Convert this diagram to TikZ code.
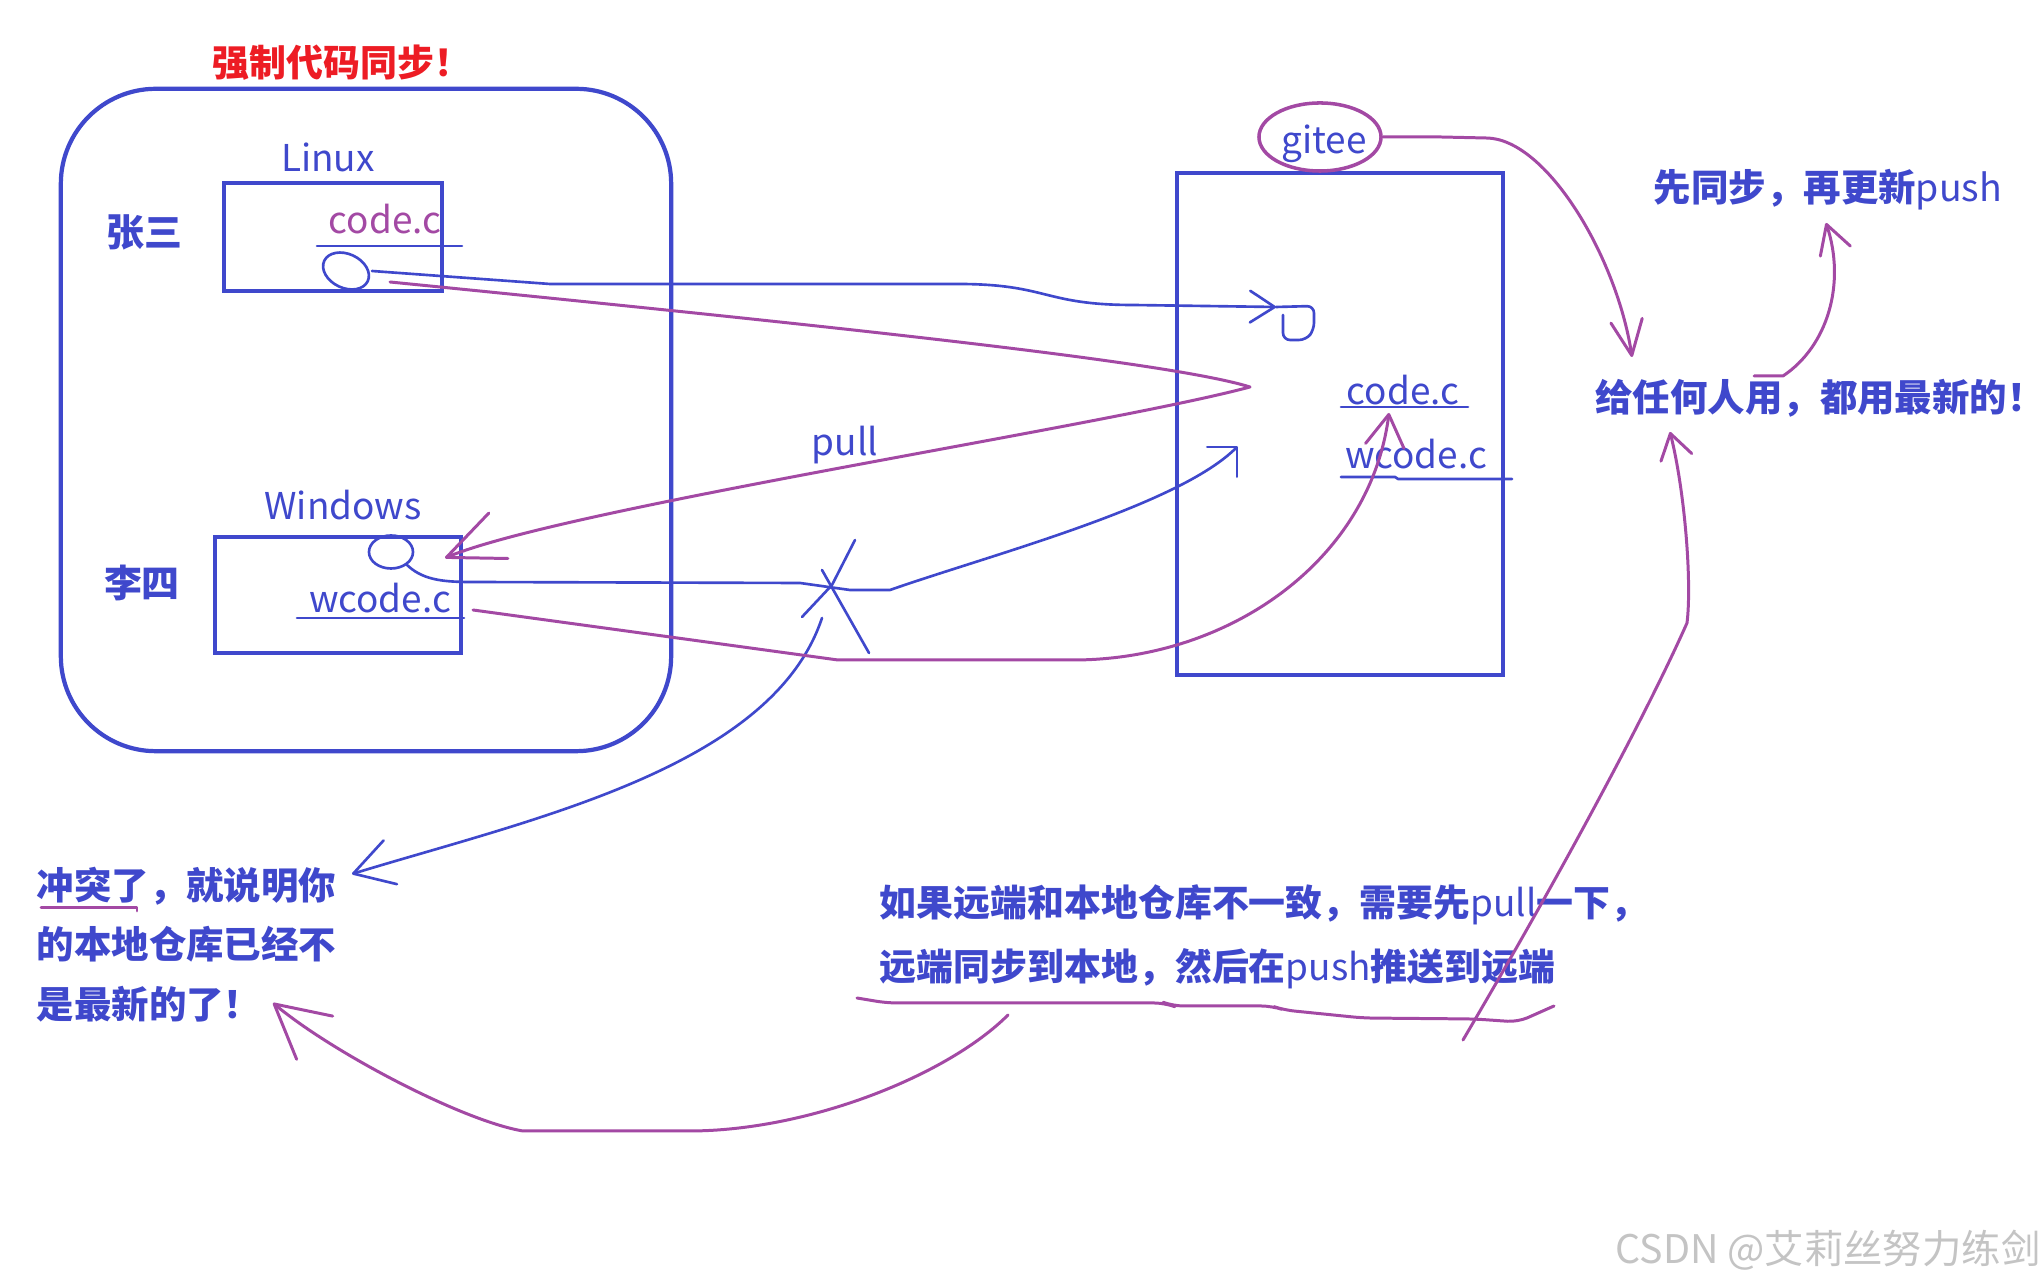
\documentclass[tikz,border=0pt]{standalone}
\usepackage{fontspec}
\setmainfont{Noto Sans CJK SC}
\usepackage{xcolor}
\usetikzlibrary{positioning, arrows.meta, shapes.geometric}
\definecolor{inkblue}{RGB}{63,72,204}
\definecolor{inkpurple}{RGB}{163,73,164}
\definecolor{inkred}{RGB}{237,28,36}
\definecolor{markgray}{RGB}{196,196,196}

\begin{document}
\begin{tikzpicture}[
      x=0.01cm, y=-0.01cm,
      font=\fontsize{10.5}{12}\selectfont,
      box/.style={
        draw=inkblue,
        line width=1.2pt,
        inner sep=0pt
      },
      word/.style={text=inkblue, inner sep=0pt},
      notetext/.style={
        text=inkblue,
        inner sep=0pt,
        align=left,
        font=\fontsize{10.65}{17}\selectfont\bfseries
      },
      loop/.style={ellipse, draw=inkblue, line width=0.75pt, inner sep=0pt},
      bluepen/.style={draw=inkblue, line width=0.75pt, line cap=round, line join=round},
      purplepen/.style={draw=inkpurple, line width=0.85pt, line cap=round, line join=round},
      barb/.style 2 args={-{Straight Barb[length=#1, width=#2, round]}}
    ]
    \useasboundingbox (0,0) rectangle (2044,1286);
    \fill[white] (0,0) rectangle (2044,1286);

    % Place nodes
    \node [box, rounded corners=0.95cm, minimum width=6.1cm, minimum height=6.62cm] (team) at (366,420) {};
    \node [text=inkred, inner sep=0pt, font=\fontsize{10.5}{12}\selectfont\bfseries] (title) at (342,63) {强制代码同步！};
    \node [box, minimum width=2.18cm, minimum height=1.08cm] (linuxbox) at (333,237) {};
    \node [word] (linux) at (328,157) {Linux};
    \node [word, font=\fontsize{10.8}{12}\selectfont\bfseries] (zhangsan) at (144,232) {张三};
    \node [word, text=inkpurple] (codeA) at (385,219) {code.c};
    \node [loop, minimum width=0.48cm, minimum height=0.34cm, rotate=-25] (loopA) at (346,271) {};
    \node [box, minimum width=2.46cm, minimum height=1.16cm] (winbox) at (338,595) {};
    \node [word] (windows) at (343,505) {Windows};
    \node [word, font=\fontsize{10.8}{12}\selectfont\bfseries] (lisi) at (142,583) {李四};
    \node [word] (wcodeA) at (380,598) {wcode.c};
    \node [loop, minimum width=0.44cm, minimum height=0.33cm] (loopB) at (391,552) {};

    \node [box, minimum width=3.26cm, minimum height=5.02cm] (gitbox) at (1340,424) {};
    \node [ellipse, draw=inkpurple, line width=1pt, minimum width=1.22cm, minimum height=0.68cm, inner sep=0pt] (gitee) at (1320,137) {};
    \node [word] (giteename) at (1324,144) {gitee};
    \node [word] (codeB) at (1403,390) {code.c};
    \node [word] (wcodeB) at (1416,454) {wcode.c};
    \node [word] (pull) at (845,445) {pull};

    \node [notetext] (sync) at (1828,190) {先同步，再更新{\mdseries push}};
    \node [notetext] (everyone) at (1820,398) {给任何人用，都用最新的！};
    \node [notetext, anchor=north west] (conflict) at (36,866) {冲突了，就说明你\\的本地仓库已经不\\是最新的了！};
    \node [notetext, anchor=north west, font=\fontsize{10.5}{18.2}\selectfont\bfseries] (remote) at (879,884)
      {如果远端和本地仓库不一致，需要先{\mdseries pull}一下，\\远端同步到本地，然后在{\mdseries push}推送到远端};
    \node [text=markgray, inner sep=0pt, font=\fontsize{11.2}{14}\selectfont] (mark) at (1828,1250) {CSDN @艾莉丝努力练剑};

    % Free ends of the hand drawn strokes
    \coordinate (pushOut) at (372,271);
    \coordinate (fileA) at (1276,307);
    \coordinate (linuxOut) at (390,282);
    \coordinate (turn) at (1250,387);
    \coordinate (pullTip) at (445,558);
    \coordinate (winOut) at (406,564);
    \coordinate (cross) at (832,585);
    \coordinate (pushTip) at (1238,446);
    \coordinate (conflictOut) at (822,618);
    \coordinate (conflictIn) at (352,874);
    \coordinate (wOut) at (473,610);
    \coordinate (mergeTip) at (1389,413);
    \coordinate (giteeTip) at (1632,357);
    \coordinate (syncOut) at (1754,376);
    \coordinate (syncTip) at (1826,223);
    \coordinate (remoteOut) at (1008,1015);
    \coordinate (remoteTip) at (273,1003);
    \coordinate (remoteUp) at (1463,1040);
    \coordinate (everyoneTip) at (1670,432);

    % Underlines
    \draw [bluepen] (317,246) -- (462,246);
    \draw [bluepen] (297,618) -- (464,618);
    \draw [bluepen] (1341,407) -- (1468,407);
    \draw [bluepen] (1341,477) -- (1395,477) -- (1398,479) -- (1512,479);
    \draw [purplepen] (41,908) -- (137,908) -- (137,911);
    \draw [purplepen, rounded corners=3pt] (857,998) -- (887,1003) -- (1165,1003) -- (1173,1006) -- (1272,1006)
      -- (1284,1010) -- (1363,1018) -- (1475,1019) -- (1518,1022) -- (1554,1006);

    % File in the remote repository
    \draw [bluepen, rounded corners=2pt] (fileA) -- (1314,306) -- (1314,330) -- (1306,340) -- (1283,340) -- (1283,315);

    % Push from Linux, pull back to Windows
    \draw [bluepen, barb={7pt}{9pt}] (pushOut) -- (550,284) -- (958,284)
      .. controls +(90,0) and +(-90,0) .. (1133,305) -- (fileA);
    \draw [purplepen, barb={16pt}{14pt}] (linuxOut) .. controls +(450,45) and +(-80,-25) .. (turn)
      .. controls +(-150,40) and +(120,-50) .. (pullTip);

    % Push from Windows is refused
    \draw [bluepen, barb={6pt}{12pt}] (winOut) .. controls +(15,15) and +(-30,0) .. (470,582) -- (800,583)
      -- (850,590) -- (890,590) .. controls +(100,-35) and +(-60,60) .. (pushTip);
    \draw [bluepen] ([shift={(23,-45)}]cross) -- (cross) -- ([shift={(-30,32)}]cross);
    \draw [bluepen] ([shift={(-10,-15)}]cross) -- ([shift={(37,68)}]cross);
    \draw [bluepen, barb={11pt}{13pt}] (conflictOut) .. controls +(-50,150) and +(180,-55) .. (conflictIn);

    % Merge into the remote code
    \draw [purplepen, barb={9pt}{11pt}] (wOut) -- (838,660) -- (1073,660)
      .. controls +(157,0) and +(-19,147) .. (mergeTip);

    % Right hand notes
    \draw [purplepen, barb={10pt}{9pt}] (gitee.east) -- (1441,137) -- (1486,138)
      .. controls +(60,0) and +(-15,-100) .. (giteeTip);
    \draw [purplepen, barb={8pt}{9pt}] (syncOut) -- (1783,376) .. controls +(45,-30) and +(20,60) .. (syncTip);
    \draw [purplepen, barb={15pt}{16pt}] (remoteOut) .. controls +(-60,60) and +(120,0) .. (689,1131) -- (523,1131)
      .. controls +(-60,-10) and +(60,50) .. (remoteTip);
    \draw [purplepen, barb={7pt}{9pt}] (remoteUp) .. controls +(100,-170) and +(-40,90) .. (1687,623)
      .. controls +(5,-40) and +(15,60) .. (everyoneTip);
  \end{tikzpicture}
\end{document}
